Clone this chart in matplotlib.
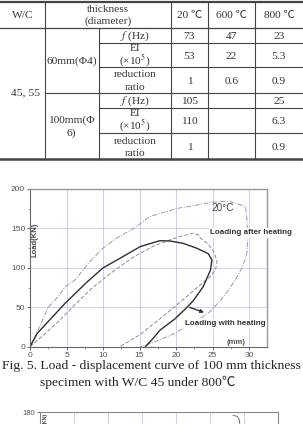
import matplotlib.pyplot as plt
from matplotlib.ticker import MultipleLocator

plt.rcParams['mathtext.fontset'] = 'stix'
serif = ['Liberation Serif', 'Noto Sans CJK KR', 'DejaVu Serif']
sans = ['Liberation Sans', 'DejaVu Sans']

# table contents
col_heads = ["20 \u2103", "600 \u2103", "800 \u2103"]
wc_label = "45, 55"
thick_head = ["thickness", "(diameter)"]
thick_labels = [["60mm(\u03a64)"], ["100mm(\u03a6", "6)"]]
row_names = [["$f$ (Hz)"], ["EI", "(\u00d710$^5$)"], ["reduction", "ratio"]]
vals_60 = [["73", "47", "23"], ["53", "22", "5.3"], ["1", "0.6", "0.9"]]
vals_100 = [["105", "", "25"], ["110", "", "6.3"], ["1", "", "0.9"]]

# load-displacement curves, displacement (mm) / load (kN)
disp_20c = [0, 1.1, 2.5, 3.9, 4.8, 6.2, 8.2, 10.0, 11.9, 14.2, 16.4, 18.5, 20.5, 22.5,
            24.7, 26.0, 27.4, 28.1, 29.5, 29.7, 29.8, 29.7, 29.5, 29.0, 28.3, 27.2,
            26.0, 24.7, 23.3, 21.5, 19.6, 17.3, 15.1]
load_20c = [0, 21, 50, 64, 76, 85, 108, 125, 138, 150, 165, 171, 176, 179,
            183, 184, 184, 182, 178, 161, 135, 120, 112, 100, 88, 72,
            58, 45, 36, 26, 16, 7, 0]
disp_heat = [0, 1.0, 2.7, 4.8, 7.8, 10.0, 12.3, 15.1, 17.8, 19.2, 21.0, 22.8, 24.4,
             24.9, 24.7, 23.7, 22.4, 21.5, 19.8, 17.8, 16.8, 15.8]
load_heat = [0, 17, 34, 55, 82, 100, 112, 127, 134.5, 134, 131, 125, 118,
             110, 97, 76, 59, 50, 35, 21, 10, 0]
disp_after = [0, 2.0, 4.0, 6.0, 8.2, 11.0, 14.2, 17.0, 19.0, 20.5, 22.4, 23.0, 23.4,
              24.3, 25.2, 25.6, 25.4, 24.7, 23.5, 21.0, 18.0, 15.0, 12.3]
load_after = [0, 16, 33, 52, 72, 93, 114, 128, 135, 139.6, 144, 142, 137,
              131, 120, 108, 98, 89, 80, 60, 37, 15, 0]

# second figure (only its top edge is visible)
disp_next = [28.4, 29.0, 29.3, 29.4]
load_next = [176, 175, 171, 164]

fig = plt.figure(figsize=(3.03, 4.24), dpi=100)

# overlay in pixel coordinates for the table and caption
ov = fig.add_axes([0, 0, 1, 1])
ov.set_xlim(0, 303)
ov.set_ylim(424, 0)
ov.axis('off')

lc = '#444444'
tc = '#333333'
# horizontal rules
ov.plot([0, 303], [1.5, 1.5], color=lc, lw=1.6)
ov.plot([0, 303], [28.3, 28.3], color=lc, lw=0.9)
ov.plot([0, 303], [158.5, 158.5], color=lc, lw=1.8)
ov.plot([45, 303], [93.3, 93.3], color=lc, lw=0.8)
for yy in [43.3, 66.7, 108.3, 133.3]:
    ov.plot([99, 303], [yy, yy], color=lc, lw=0.8)
# vertical rules
for xx in [45, 171, 208, 255]:
    ov.plot([xx, xx], [1.5, 158.5], color=lc, lw=0.8)
ov.plot([99, 99], [28.3, 158.5], color=lc, lw=0.8)

fs = 8.2


def cell(x, ys, lines):
    for y, t in zip(ys, lines):
        ov.text(x, y, t, ha='center', va='center', fontsize=fs, family=serif, color=tc)


cell(22.5, [15], ["W/C"])
cell(108, [9.8, 21.6], thick_head)
col_x = [189.5, 231.5, 279]
for x, h in zip(col_x, col_heads):
    cell(x, [15], [h])
cell(26, [93], [wc_label])
cell(72, [61], thick_labels[0])
cell(71, [120, 133], thick_labels[1])

name_y60 = [[36], [48.5, 60.8], [74.5, 87]]
name_y100 = [[101.5], [113.8, 126.2], [141.5, 153.2]]
val_y60 = [36.5, 56.5, 81]
val_y100 = [102, 121.5, 147]
for ny, vy, vals in [(name_y60, val_y60, vals_60), (name_y100, val_y100, vals_100)]:
    for i in range(3):
        cell(135, ny[i], row_names[i])
        for x, v in zip(col_x, vals[i]):
            cell(x, [vy[i]], [v])

# caption
ov.text(2.5, 366, "Fig. 5. Load - displacement curve of 100 mm thickness", ha='left',
        va='center', fontsize=9.7, family=serif, color='#222222')
ov.text(40, 382, "specimen with W/C 45 under 800\u2103", ha='left', va='center',
        fontsize=9.7, family=serif, color='#222222')

# load-displacement chart
ax = fig.add_axes([30 / 303, (424 - 346.7) / 424, 236.7 / 303, 157.7 / 424])
ax.plot(disp_20c, load_20c, color='#9a9a9a', lw=0.7, linestyle=(0, (5, 1.5, 1, 1.5)))
ax.plot(disp_after, load_after, color='#8c8c8c', lw=0.7, linestyle=(0, (4, 2)))
ax.plot(disp_heat, load_heat, color='#2e2e2e', lw=1.0)
ax.set_xlim(0, 32.4)
ax.set_ylim(0, 200)
ax.xaxis.set_major_locator(MultipleLocator(5))
ax.xaxis.set_minor_locator(MultipleLocator(2.5))
ax.yaxis.set_major_locator(MultipleLocator(50))
ax.yaxis.set_minor_locator(MultipleLocator(25))
ax.grid(True, color='#c6c6f4', lw=0.6)
ax.set_axisbelow(True)
ax.tick_params(labelsize=6, colors='#555555', length=2, width=0.6, pad=1.5)
ax.tick_params(which='minor', length=1.2, width=0.5, colors='#777777')
for lab in ax.get_xticklabels() + ax.get_yticklabels():
    lab.set_family(sans)
for s in ['left', 'bottom']:
    ax.spines[s].set_color('#666666')
    ax.spines[s].set_linewidth(0.8)
for s in ['top', 'right']:
    ax.spines[s].set_color('#999999')
    ax.spines[s].set_linewidth(1.0)

ax.text(0.7, 135, "Load(KN)", rotation=90, ha='center', va='center', fontsize=5.5,
        family=sans, weight='bold', color='#444444')
ax.text(24.9, 176, "20\u00b0C", ha='left', va='center', fontsize=7.2, family=sans, color='#444444')
box = dict(facecolor='white', edgecolor='none', pad=1.0)
ax.text(24.65, 144.3, "Loading after heating", ha='left', va='center', fontsize=5.8,
        family=sans, weight='bold', color='#333333', bbox=box, clip_on=False, zorder=5)
ax.text(21.2, 28.8, "Loading with heating", ha='left', va='center', fontsize=5.8,
        family=sans, weight='bold', color='#333333', bbox=box, clip_on=False, zorder=5)
ax.text(28.2, 5, "(mm)", ha='center', va='center', fontsize=5.5, family=sans,
        weight='bold', color='#555555')
ax.annotate('', xy=(24.2, 42.3), xytext=(21.5, 51),
            arrowprops=dict(arrowstyle='-|>', color='#333333', lw=1.0, mutation_scale=5))

# next chart, cut off by the page edge
ax2 = fig.add_axes([40 / 303, (424 - 554.5) / 424, 238 / 303, 142.2 / 424])
ax2.plot(disp_next, load_next, color='#777777', lw=0.7)
ax2.set_xlim(0, 35)
ax2.set_ylim(0, 180)
ax2.xaxis.set_major_locator(MultipleLocator(5))
ax2.set_yticks([180])
ax2.grid(True, color='#c6c6f4', lw=0.6)
ax2.set_axisbelow(True)
ax2.tick_params(labelsize=5.5, colors='#555555', length=2, width=0.6, pad=1.5,
                labelbottom=False)
for lab in ax2.get_yticklabels():
    lab.set_family(sans)
for s in ax2.spines.values():
    s.set_color('#888888')
ax2.text(0.7, 179.6, "(KN)", rotation=90, ha='center', va='top', fontsize=3.8,
         family=sans, weight='bold', color='#444444')

fig.savefig("out.png", dpi=100, facecolor='white')
